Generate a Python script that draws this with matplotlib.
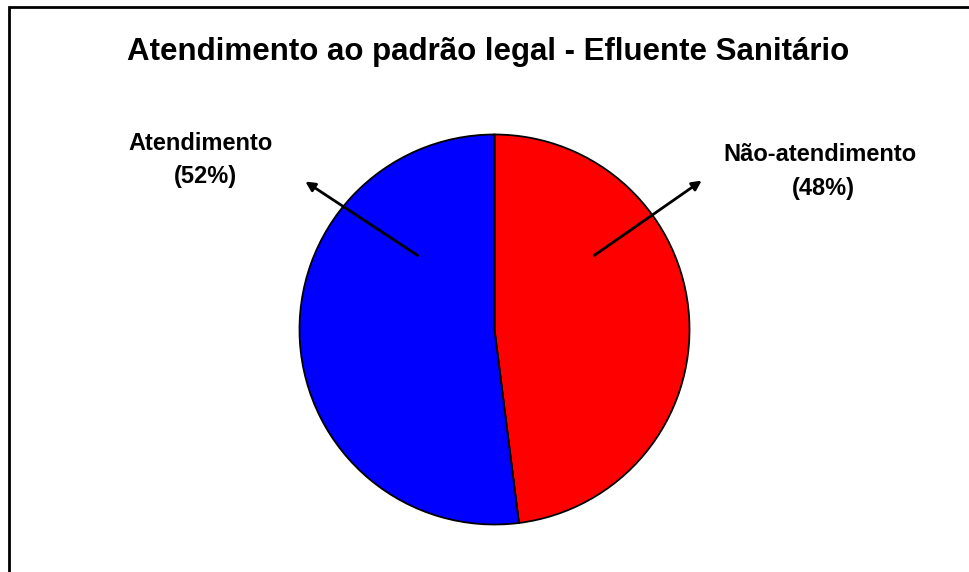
import matplotlib.pyplot as plt
from matplotlib.patches import Rectangle

plt.rcParams['font.family'] = ['Liberation Sans', 'DejaVu Sans']

# Dados do gráfico
categorias = ['Não-atendimento', 'Atendimento']
valores = [48, 52]
cores = ['#ff0000', '#0000ff']
titulo = 'Atendimento ao padrão legal - Efluente Sanitário'

W, H = 970, 572
fig = plt.figure(figsize=(W / 100, H / 100), dpi=100)
ax = fig.add_axes([0, 0, 1, 1])
ax.set_xlim(0, W)
ax.set_ylim(0, H)
ax.set_aspect('equal')
ax.axis('off')

# Moldura do gráfico (direita e base ficam fora da imagem)
ax.add_patch(Rectangle((9, -20), W + 20, H - 7 + 20, fill=False, ec='black', lw=2))

cx, cy, r = 494.5, H - 329.5, 195
ax.pie(valores, colors=cores, startangle=90, counterclock=False,
       center=(cx, cy), radius=r,
       wedgeprops=dict(edgecolor='black', linewidth=1.3))
ax.set_xlim(0, W)
ax.set_ylim(0, H)

ax.text(488, H - 60, titulo, ha='center', va='baseline', fontsize=22.5, fontweight='bold')

# Rótulos com setas
fs = 17
ax.text(201, H - 150, categorias[1], ha='center', va='baseline', fontsize=fs, fontweight='bold')
ax.text(205, H - 183, f'({valores[1]}%)', ha='center', va='baseline', fontsize=fs, fontweight='bold')
ax.text(820, H - 161, categorias[0], ha='center', va='baseline', fontsize=fs, fontweight='bold')
ax.text(823, H - 195, f'({valores[0]}%)', ha='center', va='baseline', fontsize=fs, fontweight='bold')

ax.annotate('', xy=(303, H - 180), xytext=(420, H - 257),
            arrowprops=dict(arrowstyle='-|>', lw=2, color='black', mutation_scale=14))
ax.annotate('', xy=(704, H - 179), xytext=(592, H - 257),
            arrowprops=dict(arrowstyle='-|>', lw=2, color='black', mutation_scale=14))

fig.savefig('out.png', dpi=100)
